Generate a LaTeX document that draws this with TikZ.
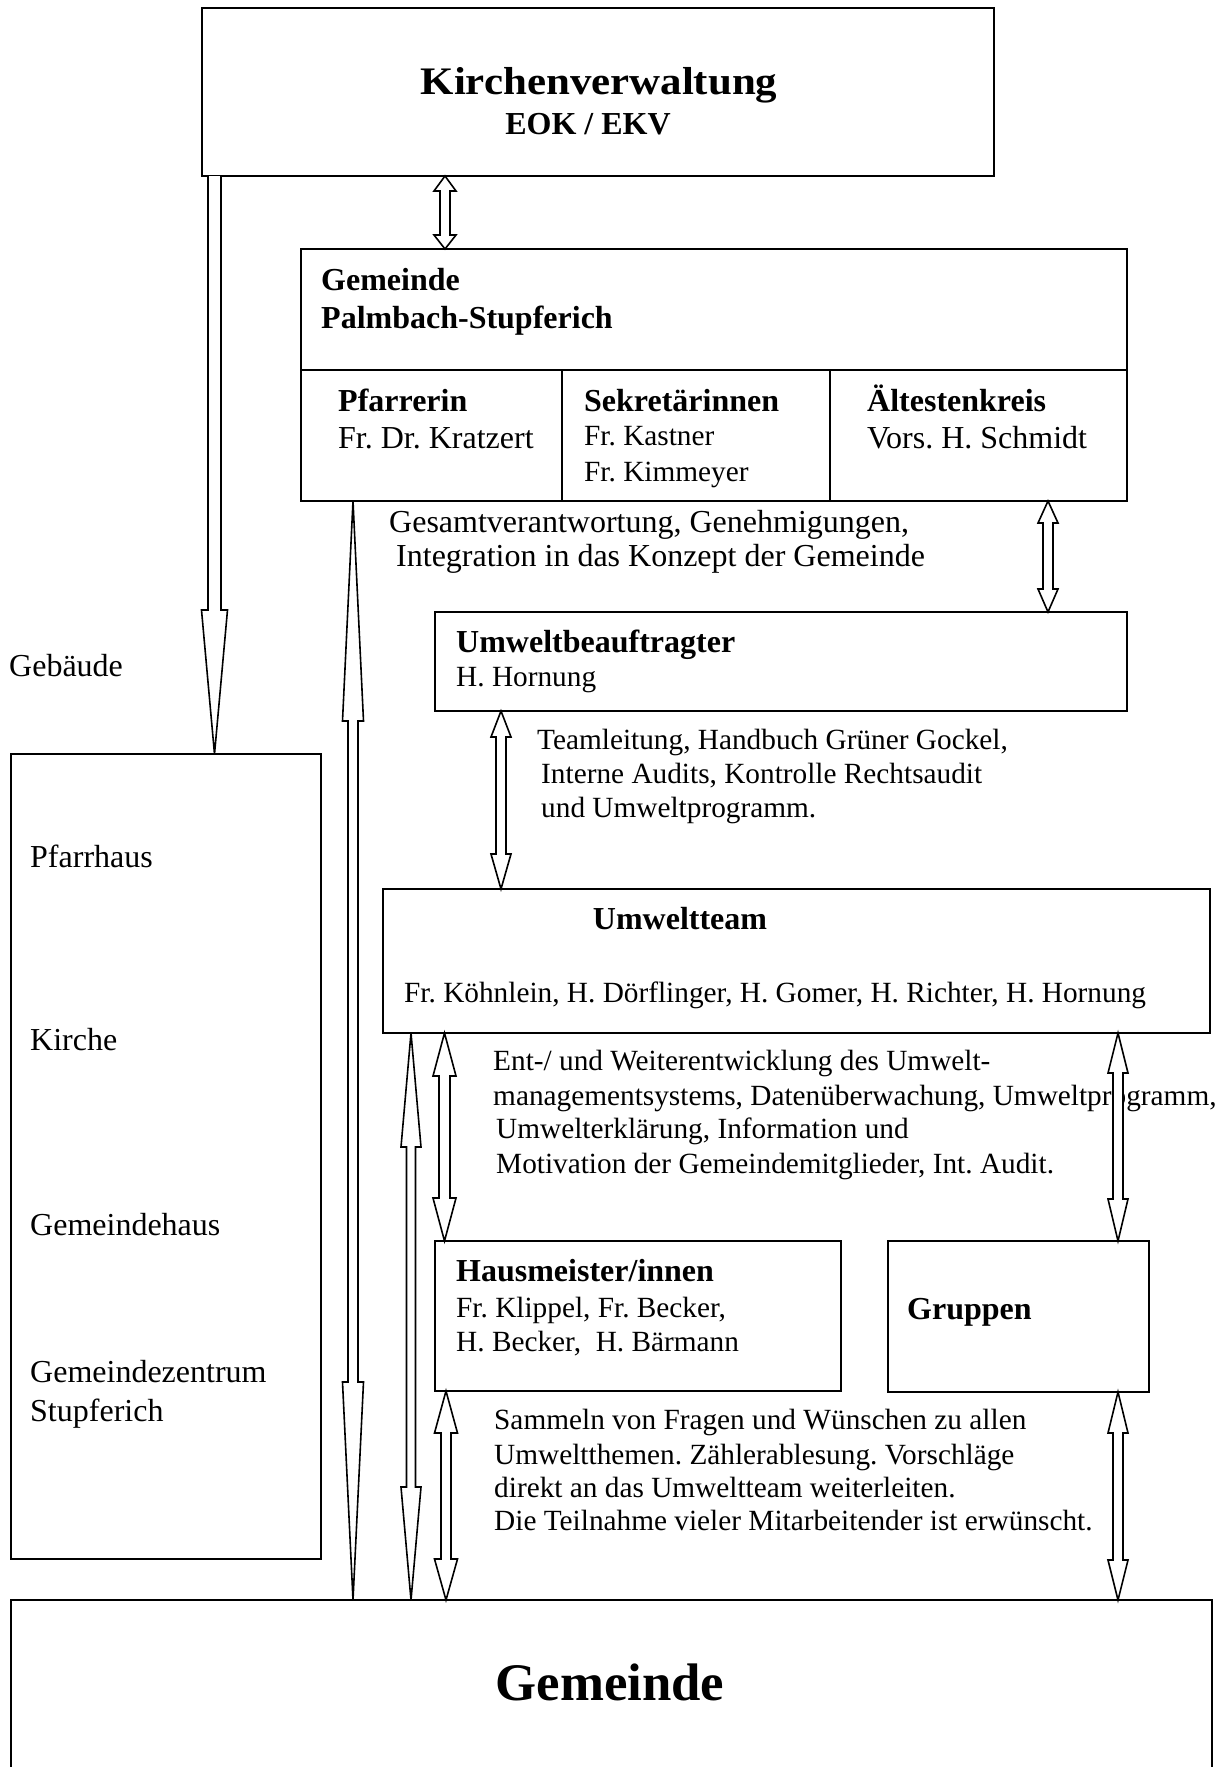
\documentclass[tikz,border=0pt]{standalone}
\usepackage{fontspec}
\setmainfont{Liberation Serif}
\usetikzlibrary{calc}
\newcommand\fs{\fontsize{29.3}{34}\selectfont}
\newcommand\fb{\fontsize{32}{36}\selectfont}
\newcommand\dbar[6]{%
 \draw[blk] let \p1=#1, \p2=#2 in
 (\x1,\y1) -- (\x1+#5pt,\y1-#3pt) -- (\x1+#6pt,\y1-#3pt) -- (\x1+#6pt,\y2+#4pt) -- (\x1+#5pt,\y2+#4pt) -- (\x1,\y2) -- (\x1-#5pt,\y2+#4pt) -- (\x1-#6pt,\y2+#4pt) -- (\x1-#6pt,\y1-#3pt) -- (\x1-#5pt,\y1-#3pt) -- cycle;}
\tikzset{
 box/.style={draw, line width=1.8pt, rectangle, inner sep=0pt, outer sep=0pt, anchor=north west},
 lbl/.style={anchor=base west, inner sep=0pt, font=\fs},
 lbig/.style={anchor=base west, inner sep=0pt, font=\fb},
 blbl/.style={anchor=base west, inner sep=0pt, font=\fb\bfseries},
 blk/.style={draw, line width=1.6pt, fill=white, line join=miter}
}
\begin{document}
\frenchspacing
\begin{tikzpicture}[x=1pt,y=-1pt]
\useasboundingbox (0,0) rectangle (1223,1767);
\clip (0,0) rectangle (1223,1767);
% boxes
\node[box, minimum width=792, minimum height=168] (kv) at (202,8) {};
\node[box, minimum width=826, minimum height=252] (pal) at (301,249) {};
\node[box, minimum width=692, minimum height=99] (ub) at (435,612) {};
\node[box, minimum width=827, minimum height=144] (ut) at (383,889) {};
\node[box, minimum width=406, minimum height=150] (hm) at (435,1241) {};
\node[box, minimum width=261, minimum height=151] (gr) at (888,1241) {};
\node[box, minimum width=310, minimum height=805] (geb) at (11,754) {};
\node[box, minimum width=1201, minimum height=260] (gem) at (11,1600) {};
% dividers in pal
\draw[line width=1.8pt] (pal.west |- 0,370) -- (pal.east |- 0,370);
\draw[line width=1.8pt] (562,370) -- (562,0 |- pal.south);
\draw[line width=1.8pt] (830,370) -- (830,0 |- pal.south);
% texts
\node[anchor=base, inner sep=0pt, font=\fontsize{39}{44}\selectfont\bfseries] (kvt) at (599,94) {\scalebox{1.1}[1]{Kirchenverwaltung}};
\node[anchor=base, inner sep=0pt, font=\fb\bfseries] (kvs) at (588,134) {EOK / EKV};
\node[blbl] (p1) at (321,290) {Gemeinde};
\node[blbl] (p2) at (321,328) {Palmbach-Stupferich};
\node[blbl] (p3) at (338,411) {Pfarrerin};
\node[lbig] (p4) at (338,448) {Fr. Dr. Kratzert};
\node[blbl] (p5) at (584,411) {Sekretärinnen};
\node[lbl] (p6) at (584,445) {Fr. Kastner};
\node[lbl] (p7) at (584,481) {Fr. Kimmeyer};
\node[blbl] (p8) at (867,411) {Ältestenkreis};
\node[lbig] (p9) at (867,448) {Vors. H. Schmidt};
\node[lbig] (g1) at (389,532) {Gesamtverantwortung, Genehmigungen,};
\node[lbig] (g2) at (396,566) {Integration in das Konzept der Gemeinde};
\node[blbl] (u1) at (456,652) {Umweltbeauftragter};
\node[lbl] (u2) at (456,686) {H. Hornung};
\node[lbl] (t1) at (537,749) {Teamleitung, Handbuch Grüner Gockel,};
\node[lbl] (t2) at (541,783) {Interne Audits, Kontrolle Rechtsaudit};
\node[lbl] (t3) at (541,817) {und Umweltprogramm.};
\node[anchor=base, inner sep=0pt, font=\fb\bfseries] (w1) at (680,929) {Umweltteam};
\node[lbl] (w2) at (404,1002) {Fr. Köhnlein, H. Dörflinger, H. Gomer, H. Richter, H. Hornung};
\node[lbl] (e1) at (493,1070) {Ent-/ und Weiterentwicklung des Umwelt-};
\node[lbl] (e2) at (493,1105) {managementsystems, Datenüberwachung, Umweltprogramm,};
\node[lbl] (e3) at (496,1138) {Umwelterklärung, Information und};
\node[lbl] (e4) at (496,1173) {Motivation der Gemeindemitglieder, Int. Audit.};
\node[blbl] (h1) at (456,1281) {Hausmeister/innen};
\node[lbl] (h2) at (456,1317) {Fr. Klippel, Fr. Becker,};
\node[lbl] (h3) at (456,1351) {H. Becker, \ H. Bärmann};
\node[blbl] (gr1) at (907,1319) {Gruppen};
\node[lbl] (s1) at (494,1429) {Sammeln von Fragen und Wünschen zu allen};
\node[lbl] (s2) at (494,1464) {Umweltthemen. Zählerablesung. Vorschläge};
\node[lbl] (s3) at (494,1497) {direkt an das Umweltteam weiterleiten.};
\node[lbl] (s4) at (494,1530) {Die Teilnahme vieler Mitarbeitender ist erwünscht.};
\node[anchor=base, inner sep=0pt, font=\fontsize{52.8}{58}\selectfont\bfseries] (gm) at (610,1700) {Gemeinde};
\node[lbig] (l0) at (9,676) {Gebäude};
\node[lbig] (l1) at (30,867) {Pfarrhaus};
\node[lbig] (l2) at (30,1050) {Kirche};
\node[lbig] (l3) at (30,1235) {Gemeindehaus};
\node[lbig] (l4) at (30,1382) {Gemeindezentrum};
\node[lbig] (l5) at (30,1421) {Stupferich};
% arrows
\draw[blk] let \p1=(214.5,0 |- kv.south), \p2=(214.5,0 |- geb.north) in
 (\x1-6.5pt,\y1) -- (\x1-6.5pt,\y2+144pt) -- (\x1-13pt,\y2+144pt) -- (\x1,\y2) -- (\x1+13pt,\y2+144pt) -- (\x1+6.5pt,\y2+144pt) -- (\x1+6.5pt,\y1);
\dbar{(445,0 |- kv.south)}{(445,0 |- pal.north)}{15}{14}{11}{5}
\dbar{(353,0 |- pal.south)}{(353,0 |- gem.north)}{220}{218}{10.5}{5}
\dbar{(411,0 |- ut.south)}{(411,0 |- gem.north)}{114}{113}{10}{4.5}
\dbar{(444.5,0 |- ut.south)}{(444.5,0 |- hm.north)}{43}{43}{11.5}{5.5}
\dbar{(446,0 |- hm.south)}{(446,0 |- gem.north)}{42}{41}{11.5}{5}
\dbar{(1048,0 |- pal.south)}{(1048,0 |- ub.north)}{22}{23}{10}{5}
\dbar{(501,0 |- ub.south)}{(501,0 |- ut.north)}{26}{35}{10}{5}
\dbar{(1118,0 |- ut.south)}{(1118,0 |- gr.north)}{40}{42}{10}{5}
\dbar{(1118,0 |- gr.south)}{(1118,0 |- gem.north)}{41}{40}{10}{5}
\end{tikzpicture}
\end{document}
